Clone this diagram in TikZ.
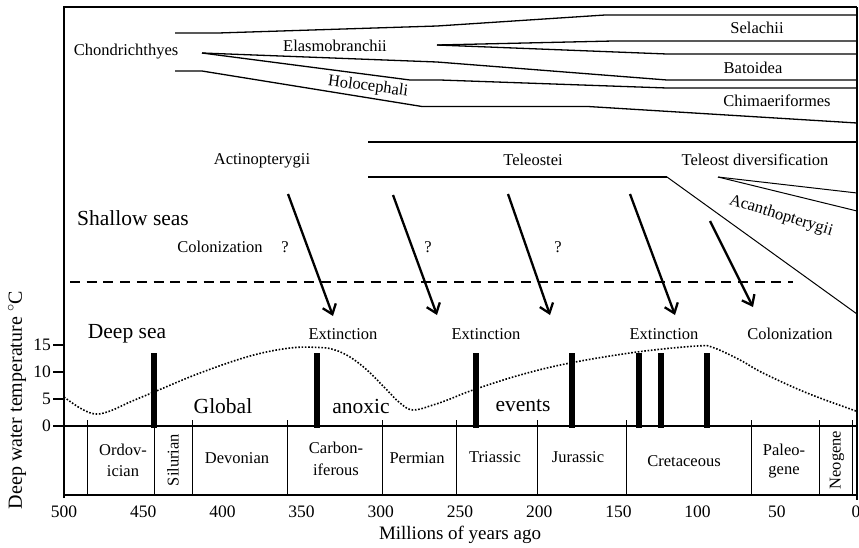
\documentclass[tikz,border=0pt]{standalone}
\usepackage{fontspec}
\setmainfont{Liberation Serif}
\usetikzlibrary{arrows.meta}
\begin{document}
\begin{tikzpicture}[x=1pt,y=-1pt,
  tree/.style={line width=1.3pt},
  frameline/.style={line width=1.6pt},
  sm/.style={font=\fontsize{16.5}{18}\selectfont, inner sep=0pt},
  bg/.style={font=\fontsize{21.5}{24}\selectfont, inner sep=0pt},
  tk/.style={font=\fontsize{17.5}{19}\selectfont, inner sep=0pt},
  migr/.style={line width=2.3pt, -{Straight Barb[length=9pt,width=14pt]}},
  evbar/.style={line width=6pt},
  temp/.style={line width=1.6pt, dash pattern=on 1.6pt off 1.7pt},
  period/.style={line width=1.3pt},
]
\useasboundingbox (0,0) rectangle (859,547);

% frame and axes
\draw[frameline] (64,498) -- (64,7) -- (857,7);
\draw[line width=2.5pt] (857,7) -- (857,500);
\draw[frameline] (64,426) -- (857,426);
\draw[frameline] (64,495) -- (857,495);

% Chondrichthyes tree
\draw[tree] (175,33) -- (218,33) -- (437,26) -- (605,15) -- (857,15);
\draw[tree] (437,45) -- (613,41) -- (857,41);
\draw[tree] (437,45) -- (667,54) -- (857,54);
\draw[tree] (202,53) -- (437,62) -- (667,80) -- (857,80);
\draw[tree] (202,53) -- (410,80) -- (440,80) -- (667,88) -- (857,88);
\draw[tree] (175,71) -- (202,71) -- (422,106.5) -- (588,106.5) -- (857,123);

\node[sm] (chon) at (126,52) {Chondrichthyes};
\node[sm] (elas) at (335,46) {Elasmobranchii};
\node[sm, rotate=-7.4] (holo) at (368,87) {Holocephali};
\node[sm] (sela) at (757,28) {Selachii};
\node[sm] (bato) at (753,68) {Batoidea};
\node[sm] (chim) at (777,101) {Chimaeriformes};

% Actinopterygii tree
\draw[tree] (368,142) -- (857,142);
\draw[tree] (368,177) -- (667,177);
\draw[line width=1pt] (667,177) -- (857,314);
\draw[line width=1pt] (718,177) -- (857,193);
\draw[line width=1pt] (718,177) -- (857,211);

\node[sm] (acti) at (262,161) {Actinopterygii};
\node[sm] (tele) at (533,160) {Teleostei};
\node[sm] (tdiv) at (755,160) {Teleost diversification};
\node[sm, rotate=-17] (acan) at (781,216) {Acanthopterygii};

% habitats
\node[bg] (shallow) at (133,218) {Shallow seas};
\node[bg] (deep) at (127,334) {Deep sea};
\draw[line width=2pt, dash pattern=on 10pt off 6.7pt] (70,282) -- (793,282);

\node[sm] (colo1) at (220,247) {Colonization};
\node[sm] (q1) at (285,247) {?};
\node[sm] (q2) at (428,247) {?};
\node[sm] (q3) at (558,247) {?};

% migration arrows
\coordinate (a1s) at (288,194); \coordinate (a1e) at (333,316);
\coordinate (a2s) at (393,195); \coordinate (a2e) at (437,315);
\coordinate (a3s) at (508,194); \coordinate (a3e) at (550,315);
\coordinate (a4s) at (630,194); \coordinate (a4e) at (675,315);
\coordinate (a5s) at (710,221); \coordinate (a5e) at (753,307);
\draw[migr] (a1s) -- (a1e);
\draw[migr] (a2s) -- (a2e);
\draw[migr] (a3s) -- (a3e);
\draw[migr] (a4s) -- (a4e);
\draw[migr] (a5s) -- (a5e);

\node[sm] (ext1) at (343,334) {Extinction};
\node[sm] (ext2) at (486,334) {Extinction};
\node[sm] (ext3) at (664,334) {Extinction};
\node[sm] (colo2) at (790,334) {Colonization};

% temperature curve
\draw[temp] plot[smooth, tension=0.6] coordinates {
 (64,397) (80,408) (95,414) (110,411) (130,402) (154,392) (200,373)
 (250,356) (290,348) (320,347.5) (335,350) (350,357) (367,370) (385,388)
 (400,403) (413,410) (433,405) (450,399) (473,390) (520,375) (570,363)
 (637,352) (697,346) (713,347.5) (740,360) (763,373) (807,393) (856,411)};

% anoxic event bars
\foreach \bx in {154,317,476,572,639,661,707}
  \draw[evbar] (\bx,353) -- (\bx,428);

\node[bg] (glob) at (223,406) {Global};
\node[bg] (anox) at (361,406) {anoxic};
\node[bg] (even) at (523,406) {events};

% periods
\foreach \px in {87.8,154.3,192.3,287.3,382.4,456.8,537.6,626.3,751.5,819.6,852.5}
  \draw[period] (\px,420) -- (\px,495);

\node[sm] (ord1) at (123,450) {Ordov-};
\node[sm] (ord2) at (123,471) {ician};
\node[sm, rotate=90] (sil) at (173,460) {Silurian};
\node[sm] (dev) at (237,458) {Devonian};
\node[sm] (car1) at (336,448) {Carbon-};
\node[sm] (car2) at (336,470) {iferous};
\node[sm] (per) at (417,458) {Permian};
\node[sm] (tri) at (495,457) {Triassic};
\node[sm] (jur) at (578,457) {Jurassic};
\node[sm] (cre) at (684,461) {Cretaceous};
\node[sm] (pal1) at (784,450) {Paleo-};
\node[sm] (pal2) at (784,472) {gene};
\node[sm, rotate=90] (neo) at (837,460) {Neogene};

% y axis ticks
\foreach \ty/\tl in {426/0,399/5,372/10,345/15} {
  \draw[frameline] (53,\ty) -- (64,\ty);
  \node[tk, anchor=east] at (51,\ty) {\tl};
}
\node[font=\fontsize{20}{22}\selectfont, inner sep=0pt, rotate=90] (ylab) at (17,400) {Deep water temperature $^\circ$C};

% x axis labels
\foreach \xx/\xl in {64/500,143.2/450,222.4/400,301.6/350,380.8/300,460/250,539.2/200,618.4/150,697.6/100,776.8/50,856/0}
  \node[tk] at (\xx,512) {\xl};
\node[font=\fontsize{19}{21}\selectfont, inner sep=0pt] (xlab) at (460,535) {Millions of years ago};

\end{tikzpicture}
\end{document}
